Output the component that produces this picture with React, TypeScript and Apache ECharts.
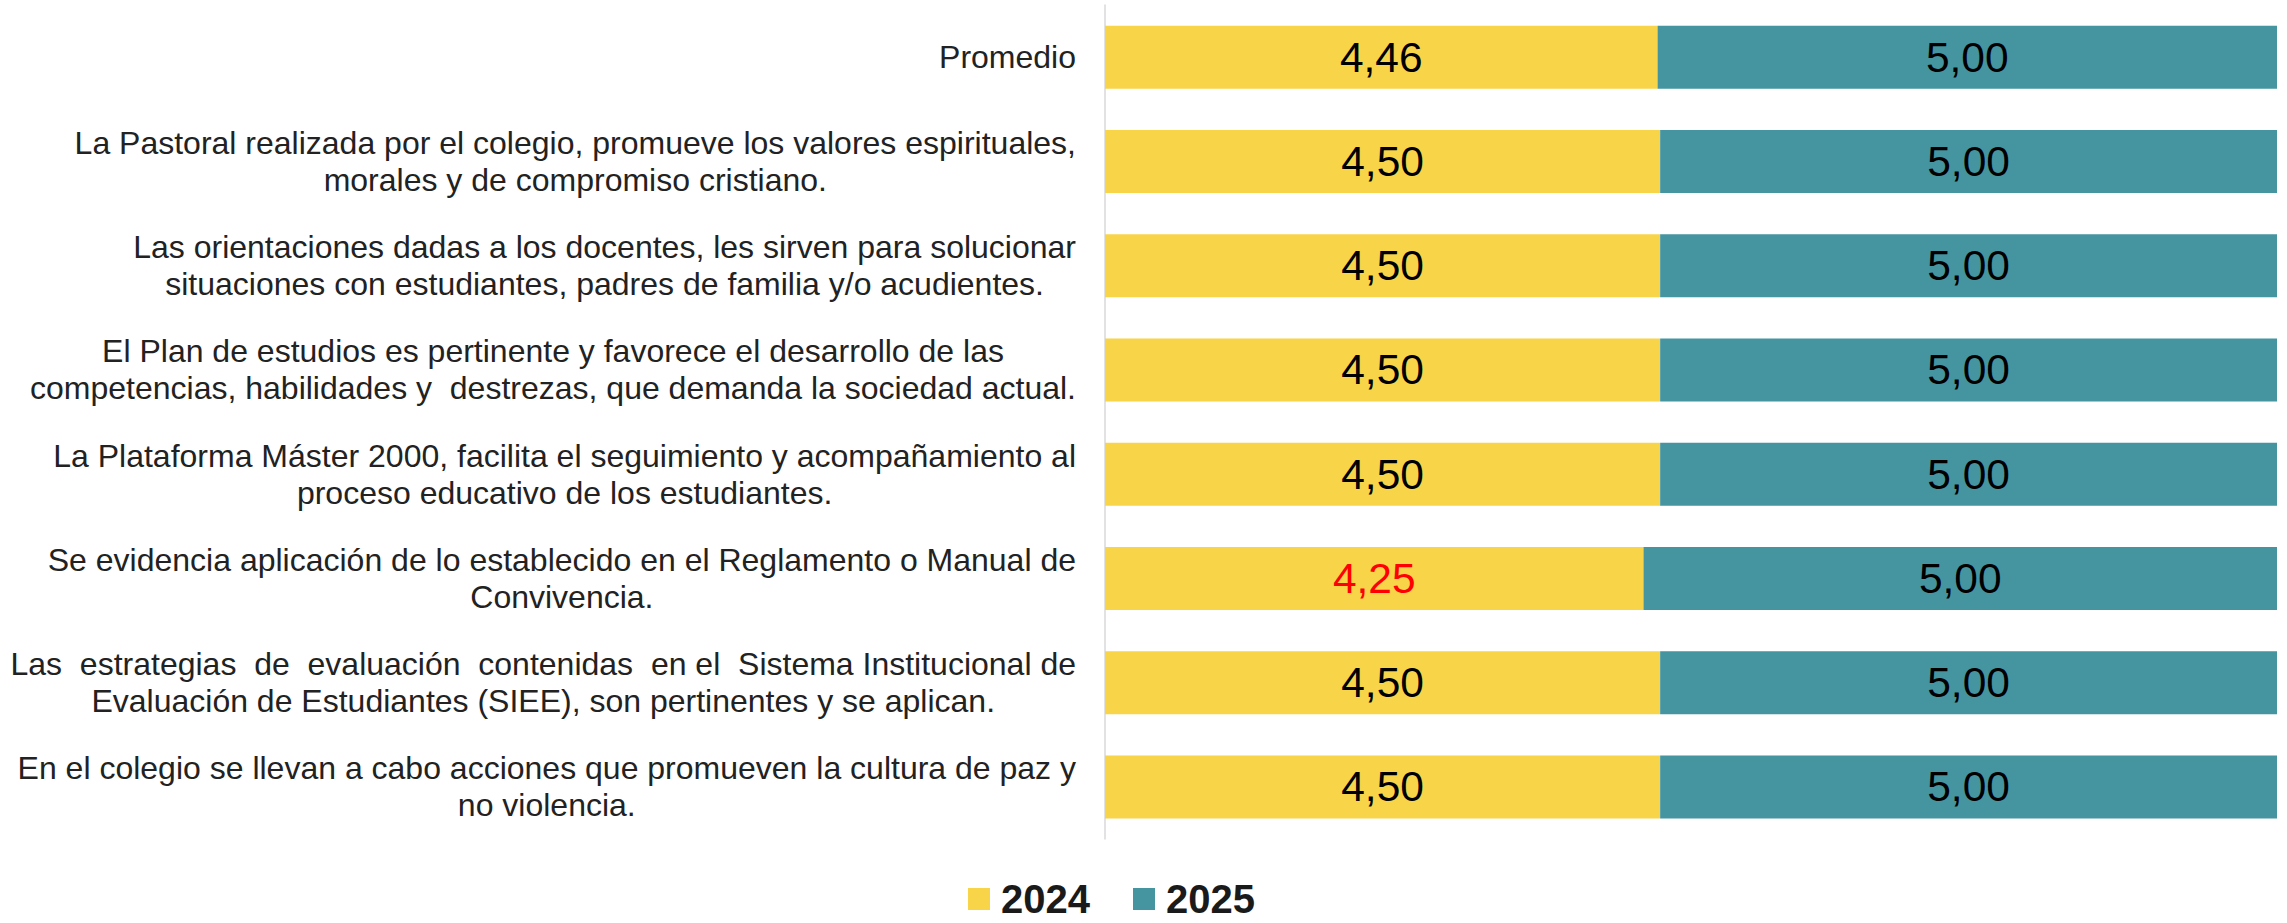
import React, { useEffect, useRef } from "react";
import * as echarts from "echarts";

const categories = [
  "Promedio",
  "La Pastoral realizada por el colegio, promueve los valores espirituales,\nmorales y de compromiso cristiano.",
  "Las orientaciones dadas a los docentes, les sirven para solucionar\nsituaciones con estudiantes, padres de familia y/o acudientes.",
  "El Plan de estudios es pertinente y favorece el desarrollo de las\ncompetencias, habilidades y  destrezas, que demanda la sociedad actual.",
  "La Plataforma Máster 2000, facilita el seguimiento y acompañamiento al\nproceso educativo de los estudiantes.",
  "Se evidencia aplicación de lo establecido en el Reglamento o Manual de\nConvivencia.",
  "Las  estrategias  de  evaluación  contenidas  en el  Sistema Institucional de\nEvaluación de Estudiantes (SIEE), son pertinentes y se aplican.",
  "En el colegio se llevan a cabo acciones que promueven la cultura de paz y\nno violencia.",
];
const seriesNames = ["2024", "2025"];
const values2024 = [4.46, 4.5, 4.5, 4.5, 4.5, 4.25, 4.5, 4.5];
const values2025 = [5.0, 5.0, 5.0, 5.0, 5.0, 5.0, 5.0, 5.0];

const FONT = "'Liberation Sans', Arial, sans-serif";
const YELLOW = "#F8D449";
const TEAL = "#4595A1";

const fmt = (v: number) => v.toFixed(2).replace(".", ",");

export default function App() {
  const ref = useRef<HTMLDivElement>(null);
  useEffect(() => {
    if (!ref.current) return;
    const chart = echarts.init(ref.current, null, { renderer: "svg" });
    const min2024 = Math.min(...values2024);
    const max2024 = Math.max(...values2024);
    const totals = values2024.map((v, i) => v + values2025[i]);
    const data2024 = values2024.map((v, i) => ({
      value: v / totals[i],
      raw: v,
      label: { color: v === min2024 && v < max2024 ? "#FF0000" : "#000000" },
    }));
    const data2025 = values2025.map((v, i) => ({ value: v / totals[i], raw: v }));
    const labelOpt = {
      show: true,
      position: "inside",
      fontSize: 42.5,
      fontFamily: FONT,
      color: "#000000",
      formatter: (p: any) => fmt(p.data.raw),
    };
    chart.setOption({
      animation: false,
      backgroundColor: "#ffffff",
      grid: { left: 1105, right: 10, top: 5, bottom: 84, containLabel: false },
      legend: {
        data: seriesNames,
        left: 968,
        top: 879,
        padding: 0,
        icon: "rect",
        itemWidth: 22,
        itemHeight: 22,
        itemGap: 43,
        textStyle: {
          fontSize: 40,
          lineHeight: 40,
          fontWeight: "bold",
          color: "#1a1a1a",
          fontFamily: FONT,
          padding: [0, 0, 0, 6],
        },
      },
      xAxis: { type: "value", min: 0, max: 1, show: false },
      yAxis: {
        type: "category",
        data: categories,
        inverse: true,
        axisLine: { show: true, lineStyle: { color: "#d9d9d9", width: 1.5 } },
        axisTick: { show: false },
        splitLine: { show: false },
        axisLabel: {
          margin: 29,
          align: "right",
          formatter: (v: string) => v.split("\n").map((l) => `{c|${l}}`).join("\n"),
          rich: {
            c: { align: "center", fontSize: 32, lineHeight: 37, fontFamily: FONT, color: "#222222" },
          },
        },
      },
      series: [
        {
          name: seriesNames[0],
          type: "bar",
          stack: "total",
          barWidth: 63,
          itemStyle: { color: YELLOW },
          label: labelOpt,
          data: data2024,
        },
        {
          name: seriesNames[1],
          type: "bar",
          stack: "total",
          barWidth: 63,
          itemStyle: { color: TEAL },
          label: labelOpt,
          data: data2025,
        },
      ],
    });
    return () => chart.dispose();
  }, []);
  return (
    <div
      ref={ref}
      style={{ position: "fixed", left: 0, top: 0, width: 2287, height: 923 }}
    />
  );
}
